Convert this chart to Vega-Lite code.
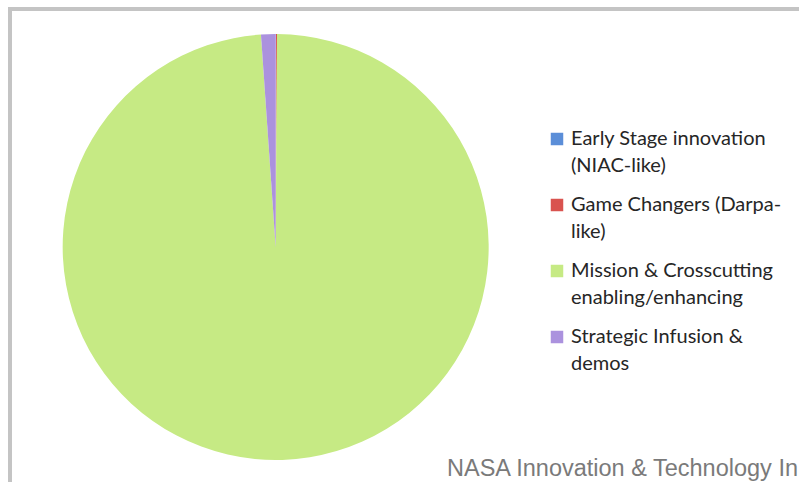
{
  "$schema": "https://vega.github.io/schema/vega-lite/v6.json",
  "autosize": {"type": "none"},
  "padding": {"left": 10, "top": 9, "right": -8, "bottom": -3},
  "width": 797,
  "height": 476,
  "background": "white",
  "title": {
    "text": "NASA Innovation & Technology In",
    "orient": "bottom",
    "anchor": "start",
    "frame": "group",
    "dx": 437,
    "offset": -9,
    "baseline": "alphabetic",
    "font": "Liberation Sans",
    "fontSize": 23.5,
    "fontWeight": "normal",
    "color": "#7a7a7a"
  },
  "data": {
    "values": [
      {"category": "Early Stage innovation (NIAC-like)", "share": 0.02},
      {"category": "Game Changers (Darpa-like)", "share": 0.08},
      {"category": "Mission & Crosscutting enabling/enhancing", "share": 98.8},
      {"category": "Strategic Infusion & demos", "share": 1.1}
    ]
  },
  "mark": {"type": "arc", "outerRadius": 213, "stroke": null},
  "encoding": {
    "theta": {"field": "share", "type": "quantitative", "stack": true},
    "x": {"datum": 1, "type": "quantitative", "scale": {"domain": [0, 3]}, "axis": null},
    "color": {
      "field": "category",
      "type": "nominal",
      "scale": {
        "domain": ["Early Stage innovation (NIAC-like)", "Game Changers (Darpa-like)", "Mission & Crosscutting enabling/enhancing", "Strategic Infusion & demos"],
        "range": ["#5b8ed8", "#d9534f", "#c6ea84", "#ab92de"]
      },
      "legend": {
        "orient": "none",
        "legendX": 537,
        "legendY": 120,
        "title": null,
        "padding": 0,
        "symbolType": "square",
        "symbolSize": 156,
        "symbolStrokeWidth": 0,
        "labelOffset": 4,
        "labelFont": "Lato",
        "labelFontSize": 20,
        "labelColor": "#262626",
        "labelLimit": 400,
        "rowPadding": 19,
        "labelExpr": "datum.label == 'Early Stage innovation (NIAC-like)' ? ['Early Stage innovation', '(NIAC-like)'] : datum.label == 'Game Changers (Darpa-like)' ? ['Game Changers (Darpa-', 'like)'] : datum.label == 'Mission & Crosscutting enabling/enhancing' ? ['Mission & Crosscutting', 'enabling/enhancing'] : ['Strategic Infusion &', 'demos']"
      }
    }
  },
  "config": {
    "view": {"stroke": "#c4c4c4", "strokeWidth": 4},
    "style": {"guide-label": {"lineHeight": 27}}
  }
}
